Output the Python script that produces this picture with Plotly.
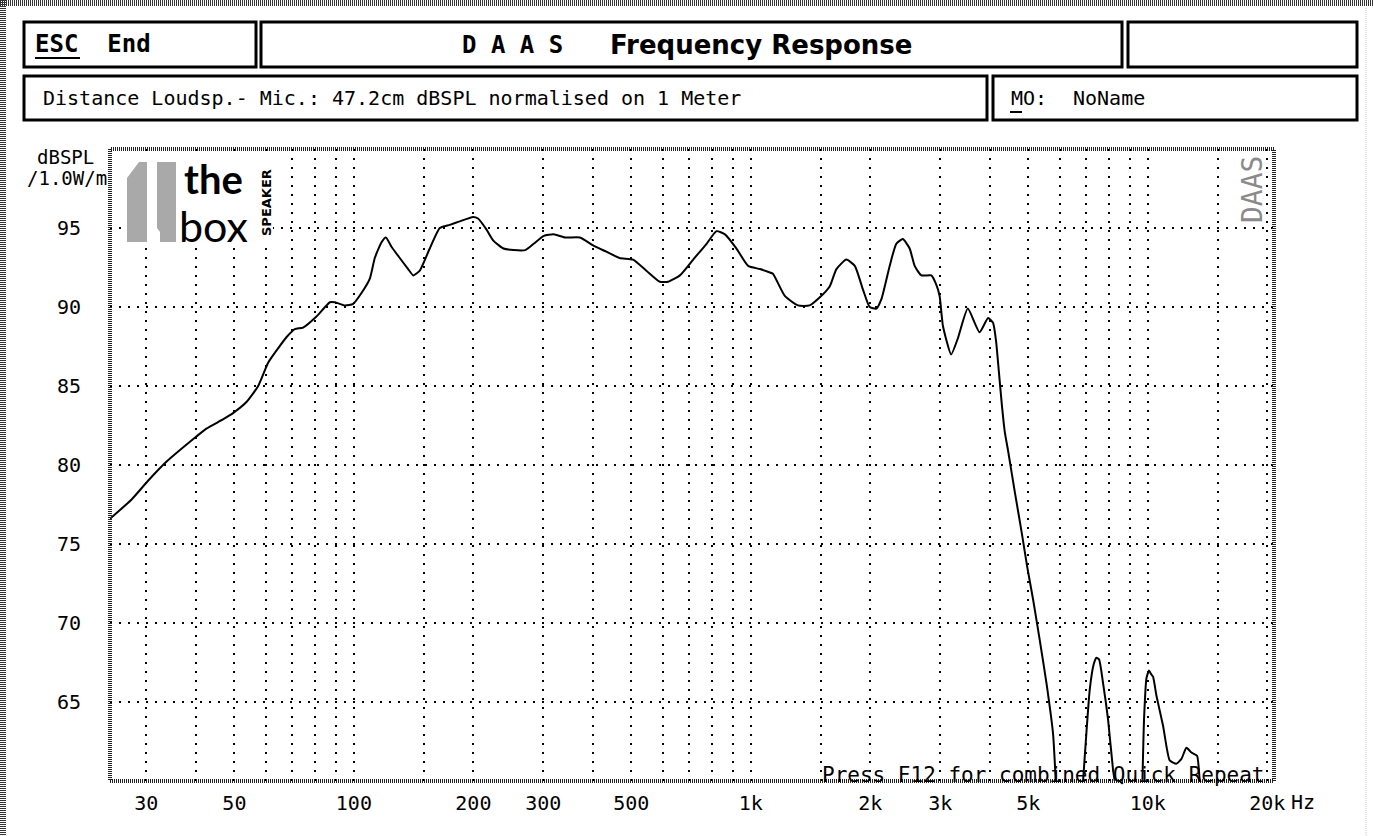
import math
import plotly.graph_objects as go

# ---------------- data ----------------
freq_hz = [24.3, 27.5, 30.3, 33.7, 40.1, 42.5, 46.9, 49.7, 53.7, 57.4, 60.9, 64.5, 67.7,
           71.0, 74.5, 80.5, 87.0, 89.6, 94.9, 99.6, 104.6, 109.7, 112.9, 117.4, 120.4,
           124.5, 130.5, 137.0, 141.1, 146.6, 155.3, 164.6, 174.4, 183.9, 199.6, 205.5,
           215.9, 224.6, 238.1, 252.4, 270.3, 283.7, 301.0, 318.5, 340.5, 371.0, 400.6,
           432.6, 467.2, 505.0, 545.6, 589.9, 619.3, 663.0, 716.0, 773.7, 819.6, 860.6,
           920.3, 984.5, 1054, 1113, 1137, 1218, 1314, 1406, 1490, 1580, 1643, 1741,
           1828, 1917, 1993, 2071, 2133, 2238, 2325, 2415, 2513, 2587, 2689, 2849, 2934,
           2990, 3048, 3197, 3322, 3521, 3770, 3960, 4076, 4150, 4220, 4290, 4363, 4448,
           4624, 4808, 4966, 5141, 5346, 5557, 5773, 5864,
           None,
           6871, 7008, 7144, 7311, 7427, 7539, 7716, 7943, 8177, 8258,
           None,
           9697, 9787, 9925, 10076, 10176, 10312, 10517, 10929, 11360, 11811, 12159,
           12516, 12883, 13310, 13464, 13520]
spl_db = [76.6, 77.8, 79.0, 80.2, 81.8, 82.3, 82.9, 83.3, 84.0, 85.0, 86.5, 87.4, 88.1,
          88.6, 88.7, 89.4, 90.3, 90.3, 90.1, 90.2, 90.9, 91.8, 93.1, 94.1, 94.4,
          93.8, 93.1, 92.4, 92.0, 92.3, 93.7, 95.0, 95.2, 95.4, 95.7, 95.6,
          94.9, 94.2, 93.7, 93.6, 93.6, 94.0, 94.5, 94.6, 94.4, 94.4, 93.9,
          93.5, 93.1, 93.0, 92.3, 91.6, 91.6, 92.0, 93.0, 94.0, 94.8, 94.6,
          93.7, 92.6, 92.4, 92.2, 92.1, 90.7, 90.1, 90.1, 90.6, 91.3, 92.4, 93.0,
          92.6, 91.1, 90.0, 89.9, 90.5, 92.6, 94.0, 94.3, 93.7, 92.6, 92.0, 92.0, 91.4,
          90.7, 88.8, 87.0, 88.0, 89.9, 88.4, 89.3, 89.0, 87.8, 85.8, 83.8, 82.1, 80.9,
          78.3, 75.8, 73.6, 71.5, 68.9, 66.2, 63.0, 60.0,
          None,
          60.0, 63.1, 65.8, 67.4, 67.8, 67.7, 66.2, 63.9, 60.7, 60.0,
          None,
          60.0, 63.9, 66.5, 67.0, 66.8, 66.6, 65.4, 63.5, 61.3, 61.1, 61.4,
          62.1, 61.8, 61.6, 60.6, 60.0]

x_tick_vals = [30, 50, 100, 200, 300, 500, 1000, 2000, 3000, 5000, 10000, 20000]
x_tick_text = ["30", "50", "100", "200", "300", "500", "1k", "2k", "3k", "5k", "10k", "20k"]
x_minor_vals = [40, 60, 70, 80, 90, 150, 400, 600, 700, 800, 900, 1500,
                4000, 6000, 7000, 8000, 9000, 15000]
y_tick_vals = [65, 70, 75, 80, 85, 90, 95]
y_tick_text = ["65", "70", "75", "80", "85", "90", "95"]

# ---------------- layout geometry ----------------
W, H = 1373, 836
L, R, T, B = 110, 1274, 149, 781


def px(x):
    return (x - L) / (R - L)


def py(y):
    return (B - y) / (B - T)


MONO = "DejaVu Sans Mono"
GRID_DASH = "2px,7px"

fig = go.Figure()
fig.add_trace(go.Scatter(x=freq_hz, y=spl_db, mode="lines",
                         line=dict(color="black", width=2, shape="spline", smoothing=0.5),
                         connectgaps=False, hoverinfo="skip", showlegend=False))

shapes = []
annotations = []

# outer dithered frame
shapes.append(dict(type="line", xref="paper", yref="paper", x0=px(3), x1=px(3), y0=py(0), y1=py(H),
                   line=dict(color="#333", width=6, dash="1px,1px")))
shapes.append(dict(type="line", xref="paper", yref="paper", x0=px(0), x1=px(W), y0=py(3), y1=py(3),
                   line=dict(color="#333", width=6, dash="1px,1px")))
shapes.append(dict(type="line", xref="paper", yref="paper", x0=px(1366), x1=px(1366), y0=py(8), y1=py(H),
                   line=dict(color="#e4e4e4", width=2, dash="1px,1px")))

# header boxes
for (x0, y0, x1, y1) in [(24, 22, 256, 67), (261, 22, 1122, 67), (1128, 22, 1357, 67),
                         (24, 76, 987, 120), (993, 76, 1357, 120)]:
    shapes.append(dict(type="rect", xref="paper", yref="paper",
                       x0=px(x0), x1=px(x1), y0=py(y0), y1=py(y1),
                       line=dict(color="black", width=3)))

# underlines
shapes.append(dict(type="line", xref="paper", yref="paper", x0=px(35), x1=px(80), y0=py(58), y1=py(58),
                   line=dict(color="black", width=2)))
shapes.append(dict(type="line", xref="paper", yref="paper", x0=px(1010), x1=px(1022), y0=py(112), y1=py(112),
                   line=dict(color="black", width=2)))

# plot border (dithered look)
shapes.append(dict(type="rect", xref="paper", yref="paper", x0=0, x1=1, y0=0, y1=1,
                   line=dict(color="#222", width=4, dash="1px,1px"), layer="above"))

# logo background + grey "t" mark
shapes.append(dict(type="rect", xref="paper", yref="paper", x0=px(124), x1=px(273), y0=py(158), y1=py(246),
                   fillcolor="white", line=dict(width=0), layer="above"))


def path(points, close=True):
    s = "M " + " L ".join(f"{px(a):.5f},{py(b):.5f}" for a, b in points)
    return s + (" Z" if close else "")


shapes.append(dict(type="path", xref="paper", yref="paper",
                   path=path([(127, 178), (139, 162), (147, 162), (147, 242), (127, 242)]),
                   fillcolor="#a9a9a9", line=dict(width=0), layer="above"))
shapes.append(dict(type="path", xref="paper", yref="paper",
                   path=path([(157, 162), (176, 162), (176, 242), (160, 242), (160, 232), (157, 228)]),
                   fillcolor="#a9a9a9", line=dict(width=0), layer="above"))
shapes.append(dict(type="path", xref="paper", yref="paper",
                   path=path([(147, 228), (160, 232), (160, 242), (147, 242)]),
                   fillcolor="white", line=dict(width=0), layer="above"))


def txt(x, y, s, size, family=MONO, anchor="left", color="black", angle=0, yanchor="middle"):
    annotations.append(dict(xref="paper", yref="paper", x=px(x), y=py(y), text=s, showarrow=False,
                            xanchor=anchor, yanchor=yanchor, textangle=angle,
                            font=dict(family=family, size=size, color=color)))


# header text
txt(33, 44, "<b>ESC  End</b>", 24)
txt(460, 45, "<b>D A A S</b>", 24)
txt(608, 45, "<b>Frequency Response</b>", 26, family="DejaVu Sans")
txt(41, 98, "Distance Loudsp.- Mic.: 47.2cm dBSPL normalised on 1 Meter", 20)
txt(1009, 98, "MO:", 20)
txt(1071, 98, "NoName", 20)

# axis unit labels
txt(65, 157, "dBSPL", 19, anchor="center")
txt(67, 178, "/1.0W/m", 19, anchor="center")
txt(1289, 802, "Hz", 20, anchor="left")

# logo text (two lines in one block)
txt(177, 203, "<span style='font-size:40px'><b>the</b></span><br>"
              "<span style='font-size:43px'>box</span>", 37, family="Lato")
txt(266, 203, "<b>SPEAKER</b>", 13, family="DejaVu Sans", anchor="center", angle=-90)

# DAAS vertical mark
txt(1252, 190, "DAAS", 28, anchor="center", angle=-90, color="#8a8a8a")

# bottom note
txt(820, 775, "Press F12 for combined Quick Repeat", 21)

fig.update_layout(
    width=W, height=H,
    margin=dict(l=L, r=W - R, t=T, b=H - B, pad=0),
    paper_bgcolor="white", plot_bgcolor="white",
    shapes=shapes, annotations=annotations,
    xaxis=dict(type="log", range=[math.log10(24.3), math.log10(20800)],
               tickmode="array", tickvals=x_tick_vals, ticktext=x_tick_text,
               showgrid=True, gridcolor="black", gridwidth=2, griddash=GRID_DASH,
               minor=dict(tickmode="array", tickvals=x_minor_vals, showgrid=True,
                          gridcolor="black", gridwidth=2, griddash=GRID_DASH, ticks=""),
               ticks="", showline=False, zeroline=False,
               tickfont=dict(family=MONO, size=20, color="black"), ticklabelstandoff=8),
    yaxis=dict(range=[60, 100], tickmode="array", tickvals=y_tick_vals, ticktext=y_tick_text,
               showgrid=True, gridcolor="black", gridwidth=2, griddash=GRID_DASH,
               ticks="outside", ticklen=24, tickcolor="rgba(0,0,0,0)",
               showline=False, zeroline=False,
               tickfont=dict(family=MONO, size=20, color="black")),
)

fig.write_html("out.html", config={"displayModeBar": False},
               post_script="document.body.style.margin='0';document.body.style.overflow='hidden';")
